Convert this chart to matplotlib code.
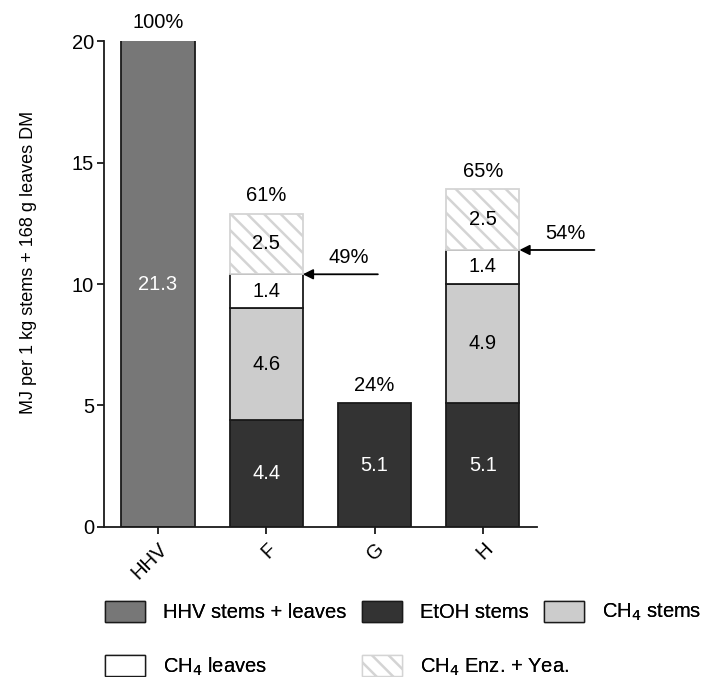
import matplotlib
matplotlib.use('Agg')
import matplotlib.pyplot as plt
from matplotlib.patches import Patch
import numpy as np

plt.rcParams['font.family'] = ['Liberation Sans', 'DejaVu Sans']
plt.rcParams['hatch.color'] = '#c8c8c8'
plt.rcParams['hatch.linewidth'] = 1.8

categories = ['HHV', 'F', 'G', 'H']
hhv = [21.3, 0, 0, 0]
etoh_stems = [0, 4.4, 5.1, 5.1]
ch4_stems = [0, 4.6, 0, 4.9]
ch4_leaves = [0, 1.4, 0, 1.4]
ch4_enz = [0, 2.5, 0, 2.5]
totals_pct = ['100%', '61%', '24%', '65%']
arrow_pct = {1: '49%', 3: '54%'}

C_HHV = '#777777'
C_ETOH = '#333333'
C_STEM = '#cccccc'
EDGE = '#1a1a1a'
HATCH_EDGE = '#d4d4d4'

fig = plt.figure(figsize=(7.02, 6.77), dpi=100)
ax = fig.add_axes([0.148, 0.2216, 0.617, 0.7178])

x = np.arange(len(categories))
w = 0.675
fs = 14.5


def stack(vals, bottom, **kw):
    # skip empty segments so they leave no stray outline
    vals = np.array(vals, dtype=float)
    keep = vals > 0
    ax.bar(x[keep], vals[keep], w, bottom=bottom[keep], **kw)
    return bottom + vals


b0 = np.zeros(len(categories))
stack(hhv, b0, color=C_HHV, edgecolor=EDGE, lw=1.3)
b1 = stack(etoh_stems, b0, color=C_ETOH, edgecolor=EDGE, lw=1.3)
b2 = stack(ch4_stems, b1, color=C_STEM, edgecolor=EDGE, lw=1.3)
b3 = stack(ch4_leaves, b2, color='white', edgecolor=EDGE, lw=1.3)
b4 = stack(ch4_enz, b3, color='white', edgecolor=HATCH_EDGE, lw=1.3, hatch='\\\\')
tops = b4 + np.array(hhv)

# value labels inside segments
ax.text(0, 10, str(hhv[0]), ha='center', va='center', color='white', fontsize=fs)
for i in range(1, 4):
    if etoh_stems[i]:
        ax.text(i, etoh_stems[i] / 2, str(etoh_stems[i]), ha='center', va='center', color='white', fontsize=fs)
    if ch4_stems[i]:
        ax.text(i, b1[i] + ch4_stems[i] / 2, str(ch4_stems[i]), ha='center', va='center', fontsize=fs)
    if ch4_leaves[i]:
        ax.text(i, b2[i] + ch4_leaves[i] / 2, str(ch4_leaves[i]), ha='center', va='center', fontsize=fs)
    if ch4_enz[i]:
        ax.text(i, b3[i] + ch4_enz[i] / 2, str(ch4_enz[i]), ha='center', va='center', fontsize=fs)

# percentage labels on top
for i, p in enumerate(totals_pct):
    top = min(tops[i], 20)
    ax.annotate(p, (i, top), xytext=(0, 13), textcoords='offset points',
                ha='center', va='center', fontsize=fs, annotation_clip=False)

# arrows pointing at the CH4 leaves level
for i, p in arrow_pct.items():
    y = b3[i]
    ax.annotate('', xy=(i + w / 2, y), xytext=(i + 1.03, y),
                arrowprops=dict(arrowstyle='-|>,head_length=0.6,head_width=0.3',
                                color='black', lw=1.3, shrinkA=0, shrinkB=0),
                annotation_clip=False)
    ax.annotate(p, (i + 0.76, y), xytext=(0, 12), textcoords='offset points',
                ha='center', va='center', fontsize=fs, annotation_clip=False)

ax.set_xlim(-0.5, 3.5)
ax.set_ylim(0, 20)
ax.set_yticks([0, 5, 10, 15, 20])
ax.set_xticks(x)
ax.set_xticklabels(categories, rotation=45, ha='right', rotation_mode='anchor', fontsize=fs)
ax.tick_params(axis='y', labelsize=fs, length=5, width=1.3, colors=EDGE, labelcolor='black', pad=2)
ax.tick_params(axis='x', length=5, width=1.3, colors=EDGE, labelcolor='black', pad=4)
ax.set_ylabel('MJ per 1 kg stems + 168 g leaves DM', fontsize=13)
ax.yaxis.set_label_coords(-0.155, 0.545)
ax.spines['top'].set_visible(False)
ax.spines['right'].set_visible(False)
for s in ['left', 'bottom']:
    ax.spines[s].set_linewidth(1.3)
    ax.spines[s].set_color(EDGE)

# legend, laid out in three columns like the original
cols = [
    [Patch(facecolor=C_HHV, edgecolor=EDGE, label='HHV stems + leaves'),
     Patch(facecolor='white', edgecolor=EDGE, label='CH$_4$ leaves')],
    [Patch(facecolor=C_ETOH, edgecolor=EDGE, label='EtOH stems'),
     Patch(facecolor='white', edgecolor=HATCH_EDGE, hatch='\\\\', label='CH$_4$ Enz. + Yea.')],
    [Patch(facecolor=C_STEM, edgecolor=EDGE, label='CH$_4$ stems')],
]
col_x = [105, 362, 544]
for hs, cx in zip(cols, col_x):
    leg = fig.legend(handles=hs, loc='upper left', bbox_to_anchor=(cx / 702, 1 - 601 / 677),
                     frameon=False, fontsize=fs, handlelength=2.0, handleheight=1.2,
                     borderpad=0, borderaxespad=0, labelspacing=1.65, handletextpad=0.9)
    fig.add_artist(leg)

fig.savefig('out.png', dpi=100)
